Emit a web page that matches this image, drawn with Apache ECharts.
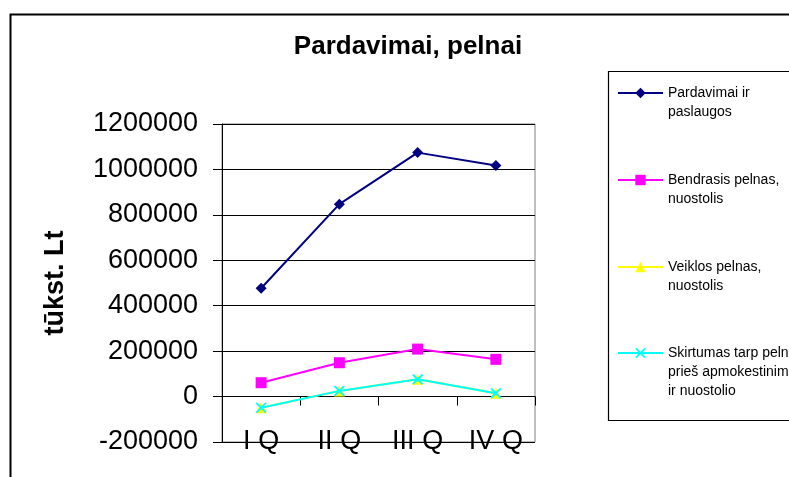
<!DOCTYPE html>
<html>
<head>
<meta charset="utf-8">
<script src="https://cdn.jsdelivr.net/npm/echarts@6/dist/echarts.min.js"></script>
<style>html,body{margin:0;padding:0;background:#fff}#c{width:789px;height:477px}</style>
</head>
<body>
<div id="c"></div>
<script>
const categories = ['I Q', 'II Q', 'III Q', 'IV Q'];
const seriesNames = [
  'Pardavimai ir paslaugos',
  'Bendrasis pelnas, nuostolis',
  'Veiklos pelnas, nuostolis',
  'Skirtumas tarp pelno prieš apmokestinimą ir nuostolio'
];
const legendLines = [
  ['Pardavimai ir', 'paslaugos'],
  ['Bendrasis pelnas,', 'nuostolis'],
  ['Veiklos pelnas,', 'nuostolis'],
  ['Skirtumas tarp pelno', 'prieš apmokestinimą', 'ir nuostolio']
];
const sales = [477000, 847000, 1074000, 1017000];
const grossProfit = [61000, 149000, 209000, 164000];
const operatingProfit = [-49000, 25000, 76000, 15000];
const pretaxDiff = [-49000, 25000, 76000, 15000];
const yTicks = { min: -200000, max: 1200000, interval: 200000 };

const colors = ['#000080', '#FF00FF', '#FFFF00', '#00FFFF'];
const xSymbol = 'path://M0,1.2L1.2,0L5,3.8L8.8,0L10,1.2L6.2,5L10,8.8L8.8,10L5,6.2L1.2,10L0,8.8L3.8,5Z';
const symbols = ['diamond', 'rect', 'triangle', xSymbol];
const symbolSizes = [11, 11, 11, 11];
const dataArr = [sales, grossProfit, operatingProfit, pretaxDiff];
const legendIconY = [93, 180, 267, 353];
const FONT = '"Liberation Sans", Arial, sans-serif';
const LH = 19;

const chart = echarts.init(document.getElementById('c'), null, { renderer: 'canvas' });

const legends = seriesNames.map((name, i) => {
  const lines = legendLines[i];
  const n = lines.length;
  const padded = Array(n - 1).fill('').concat(lines);
  const totalH = padded.length * LH;
  return {
    data: [name],
    left: 617,
    top: legendIconY[i] - totalH / 2,
    padding: 0,
    itemWidth: 45,
    itemHeight: 13,
    selectedMode: false,
    formatter: () => padded.join('\n'),
    textStyle: { fontFamily: FONT, fontSize: 14, lineHeight: LH, color: '#000' }
  };
});

const option = {
  backgroundColor: '#fff',
  animation: false,
  title: {
    text: 'Pardavimai, pelnai',
    left: 403,
    textAlign: 'center',
    top: 29,
    textStyle: { fontFamily: FONT, fontSize: 26, fontWeight: 'bold', color: '#000' }
  },
  legend: legends,
  graphic: [
    { type: 'rect', left: 8, top: 12, shape: { width: 900, height: 600 }, style: { fill: 'none', stroke: '#000', lineWidth: 2 }, silent: true, z: -10 },
    { type: 'rect', left: 606, top: 69, shape: { width: 300, height: 349 }, style: { fill: 'none', stroke: '#000', lineWidth: 1.2 }, silent: true, z: -10 }
  ],
  grid: {
    left: 222, right: 254, top: 124, bottom: 35,
    containLabel: false,
    outerBoundsMode: 'none',
    show: true, borderColor: '#808080', borderWidth: 1, backgroundColor: 'transparent'
  },
  xAxis: {
    type: 'category',
    data: categories,
    boundaryGap: true,
    axisLine: { onZero: true, lineStyle: { color: '#000', width: 1 } },
    axisTick: { show: true, length: 9, alignWithLabel: false, lineStyle: { color: '#000' } },
    axisLabel: { margin: -14, fontFamily: FONT, fontSize: 27, color: '#000', hideOverlap: false },
    splitLine: { show: false }
  },
  yAxis: {
    type: 'value',
    min: yTicks.min, max: yTicks.max, interval: yTicks.interval,
    name: 'tūkst. Lt',
    nameLocation: 'middle',
    nameRotate: 90,
    nameGap: 153,
    nameMoveOverlap: false,
    nameTextStyle: { fontFamily: FONT, fontSize: 27, fontWeight: 'bold', color: '#000' },
    axisLine: { show: true, lineStyle: { color: '#000', width: 1 } },
    axisTick: { show: true, length: 9, lineStyle: { color: '#000' } },
    axisLabel: { margin: 24, fontFamily: FONT, fontSize: 27, color: '#000', formatter: v => String(v) },
    splitLine: { show: true, lineStyle: { color: '#000', width: 1 } }
  },
  series: seriesNames.map((name, i) => ({
    name,
    type: 'line',
    data: dataArr[i],
    symbol: symbols[i],
    symbolSize: symbolSizes[i],
    showAllSymbol: true,
    color: colors[i],
    lineStyle: { color: colors[i], width: 2 },
    itemStyle: { color: colors[i] },
    z: 2 + i
  }))
};
chart.setOption(option);
</script>
</body>
</html>
